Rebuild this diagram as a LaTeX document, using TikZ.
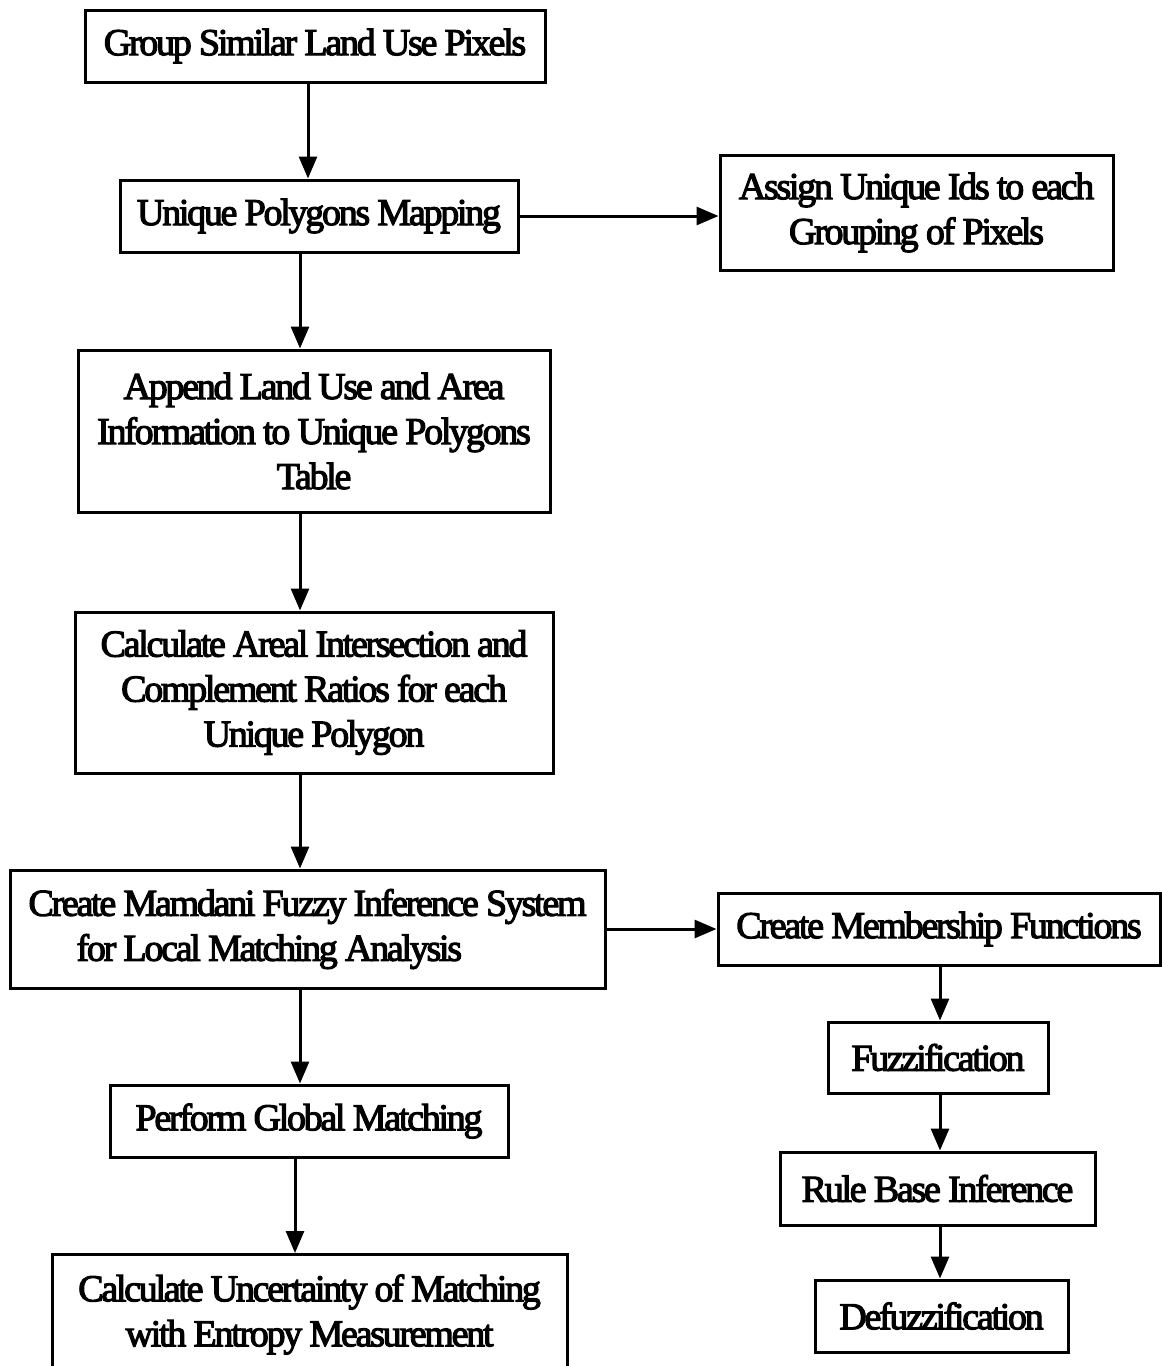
\documentclass[tikz,border=0pt]{standalone}
\usepackage{fontspec}
\newfontfamily\boxfont{Liberation Serif}[FakeBold=3,LetterSpace=-6]
\usetikzlibrary{positioning,arrows.meta}

\begin{document}
\begin{tikzpicture}[x=0.5pt,y=-0.5pt,
    box/.style={draw,line width=1.5pt,inner sep=0pt,align=center,
      font=\boxfont\fontsize{19pt}{22.5pt}\selectfont},
    arr/.style={line width=1.5pt,-{Triangle[length=11pt,width=9pt]}}
]
\useasboundingbox (0,0) rectangle (1162,1366);

\node[box,minimum width=230pt,minimum height=36pt] (group) at (315,46) {Group Similar Land Use Pixels};
\node[box,minimum width=199pt,minimum height=36pt] (unique) at (319,216) {Unique Polygons Mapping};
\node[box,minimum width=196.5pt,minimum height=57.5pt] (assign) at (916.5,212.5) {Assign Unique Ids to each\\Grouping of Pixels};
\node[box,minimum width=236pt,minimum height=81pt] (append) at (314,431) {Append Land Use and Area\\Information to Unique Polygons\\Table};
\node[box,minimum width=239pt,minimum height=80.5pt] (areal) at (314,692.5) {Calculate Areal Intersection and\\Complement Ratios for each\\Unique Polygon};
\node[box,minimum width=297.5pt,minimum height=59pt,align=left] (fis) at (307.5,929) {Create Mamdani Fuzzy Inference System\\\hspace{24pt}for Local Matching Analysis};
\node[box,minimum width=221pt,minimum height=36pt] (member) at (939,929) {Create Membership Functions};
\node[box,minimum width=199pt,minimum height=36pt] (global) at (309,1121) {Perform Global Matching};
\node[box,minimum width=110pt,minimum height=35.5pt] (fuzz) at (938,1057.5) {Fuzzification};
\node[box,minimum width=157.5pt,minimum height=36.5pt] (rule) at (937.5,1188.5) {Rule Base Inference};
\node[box,minimum width=126.5pt,minimum height=36pt] (defuzz) at (941.5,1316) {Defuzzification};
\node[box,anchor=north,minimum width=257.5pt,minimum height=60pt] (entropy) at (309.5,1253) {Calculate Uncertainty of Matching\\with Entropy Measurement};

\coordinate (top) at (308,0);
\coordinate (spine) at (300,0);
\coordinate (low) at (295,0);
\coordinate (rspine) at (940,0);

\draw[arr] (group.south -| top) -- (unique.north -| top);
\draw[arr] (unique.east) -- (unique.east -| assign.west);
\draw[arr] (unique.south -| spine) -- (append.north -| spine);
\draw[arr] (append.south -| spine) -- (areal.north -| spine);
\draw[arr] (areal.south -| spine) -- (fis.north -| spine);
\draw[arr] (fis.east) -- (member.west);
\draw[arr] (fis.south -| spine) -- (global.north -| spine);
\draw[arr] (global.south -| low) -- (entropy.north -| low);

\draw[arr] (member.south -| rspine) -- (fuzz.north -| rspine);
\draw[arr] (fuzz.south -| rspine) -- (rule.north -| rspine);
\draw[arr] (rule.south -| rspine) -- (defuzz.north -| rspine);

\end{tikzpicture}
\end{document}
